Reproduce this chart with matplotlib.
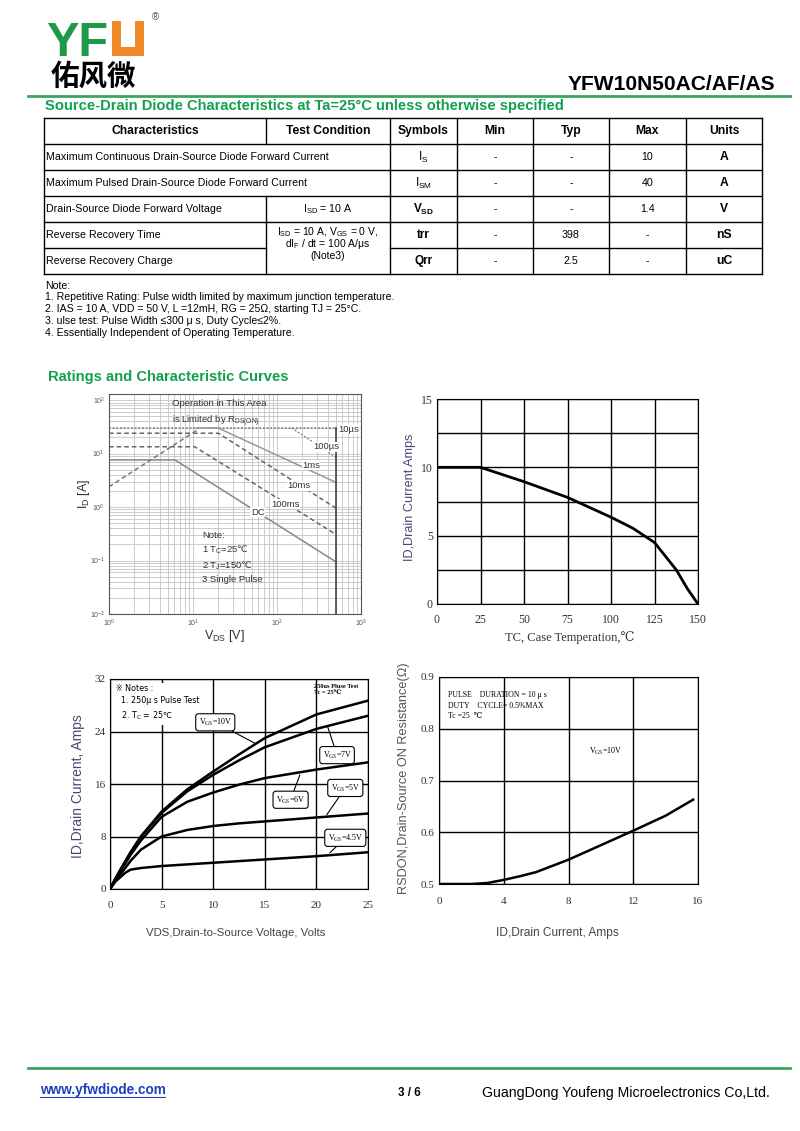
import matplotlib
matplotlib.use('Agg')
import matplotlib.pyplot as plt
from matplotlib import font_manager
from matplotlib.patches import Rectangle
from matplotlib.ticker import NullFormatter

names = {f.name for f in font_manager.fontManager.ttflist}
NARROW = 'Liberation Sans Narrow' if 'Liberation Sans Narrow' in names else 'Liberation Sans'
NARROW_F = [NARROW, 'DejaVu Sans']
SANS = ['Liberation Sans', 'DejaVu Sans']
SERIF = ['Liberation Serif', 'DejaVu Serif', 'DejaVu Sans']
CJK = ['Noto Sans CJK SC', 'DejaVu Sans']
plt.rcParams['font.family'] = SANS

GREEN = '#12a050'
LINE_GREEN = '#3aa55d'

# ---------------- table data ----------------
headers = ['Characteristics', 'Test Condition', 'Symbols', 'Min', 'Typ', 'Max', 'Units']
characteristics = ['Maximum Continuous Drain-Source Diode Forward Current',
                   'Maximum Pulsed Drain-Source Diode Forward Current',
                   'Drain-Source Diode Forward Voltage',
                   'Reverse Recovery Time',
                   'Reverse Recovery Charge']
symbols = [r'I$_\mathregular{S}$', r'I$_\mathregular{SM}$', r'V$_\mathregular{SD}$', 'trr', 'Qrr']
symbol_bold = [False, False, True, True, True]
min_vals = ['-', '-', '-', '-', '-']
typ_vals = ['-', '-', '-', '398', '2.5']
max_vals = ['10', '40', '1.4', '-', '-']
units = ['A', 'A', 'V', 'nS', 'uC']
cond_vsd = r'I$_\mathregular{SD}$ = 10 A'
cond_rr = [r'I$_\mathregular{SD}$ = 10 A, V$_\mathregular{GS}$ = 0 V,',
           r'dI$_\mathregular{F}$ / dt = 100 A/μs', '(Note3)']
notes = ['Note:',
         '1. Repetitive Rating: Pulse width limited by maximum junction temperature.',
         '2. IAS = 10 A, VDD = 50 V, L =12mH, RG = 25Ω, starting TJ = 25°C.',
         '3. ulse test: Pulse Width ≤300 μ s, Duty Cycle≤2%.',
         '4. Essentially Independent of Operating Temperature.']

# ---------------- SOA data (V, A) ----------------
us10_v = [1, 500, 500]
us10_i = [30, 30, 27]
us100_v = [150, 500]
us100_i = [30, 8.6]
ms1_v = [11, 20, 500]
ms1_i = [30, 30, 2.9]
ms10_v = [1, 20, 500]
ms10_i = [24, 24, 0.96]
ms100_v = [1, 10.5, 500]
ms100_i = [13.4, 13.4, 0.31]
dc_v = [1, 6.1, 500]
dc_i = [7.6, 7.6, 0.095]
rds_lim_v = [1, 11]
rds_lim_i = [2.4, 27]
vmax_v = [500, 500]
vmax_i = [0.01, 30]

# ---------------- derating data ----------------
tc = [0, 25, 50, 75, 100, 112.5, 125, 137.5, 144, 150]
id_tc = [10, 10, 8.95, 7.8, 6.35, 5.55, 4.5, 2.5, 1.1, 0]

# ---------------- output characteristics ----------------
vds = [0, 0.5, 1, 2, 3, 5, 7.5, 10, 12.5, 15, 20, 25]
id_10v = [0, 1.5, 2.9, 5.6, 8.0, 11.8, 15.2, 17.9, 20.5, 23.0, 26.6, 28.7]
id_7v = [0, 1.5, 2.9, 5.6, 8.0, 11.6, 14.9, 17.4, 19.6, 21.6, 24.4, 26.4]
id_6v = [0, 1.4, 2.7, 5.2, 7.4, 11.0, 13.3, 14.7, 15.9, 16.9, 18.2, 19.3]
id_5v = [0, 1.2, 2.2, 4.3, 6.0, 8.0, 9.0, 9.6, 10.0, 10.3, 10.9, 11.5]
vds_45 = [0, 0.5, 1, 1.5, 2, 3, 5, 10, 15, 20, 25]
id_45v = [0, 1.1, 1.8, 2.5, 2.95, 3.2, 3.5, 4.0, 4.5, 5.0, 5.6]
vgs_labels = ['10V', '7V', '6V', '5V', '4.5V']

# ---------------- Rds(on) data ----------------
id_r = [0, 2, 3, 4, 5, 6, 8, 10, 12, 14, 15.7]
rdson = [0.5, 0.5, 0.502, 0.508, 0.515, 0.523, 0.547, 0.575, 0.603, 0.632, 0.663]

fig = plt.figure(figsize=(8, 11.31), dpi=100)
page = fig.add_axes([0, 0, 1, 1])
page.set_xlim(0, 800)
page.set_ylim(1131, 0)
page.axis('off')


def box(l, t, r, b):
    return fig.add_axes([l / 800, 1 - b / 1131, (r - l) / 800, (b - t) / 1131])


# ---------------- header ----------------
page.text(46, 56, 'YF', fontsize=35, weight='bold', color='#1c9a48', va='baseline')
page.add_patch(Rectangle((112, 21), 32, 35, color='#ef8a2a', lw=0))
page.add_patch(Rectangle((121, 21), 14, 26, color='white', lw=0))
page.text(152, 17, '®', fontsize=7, color='#555', va='center')
page.text(51, 77, '佑风微', fontsize=20.5, family=CJK, weight='bold', va='center')
page.text(775, 85, 'YFW10N50AC/AF/AS', fontsize=15.1, weight='bold', ha='right', va='center')
page.plot([28, 790], [96, 96], color=LINE_GREEN, lw=2)
page.text(45, 106, 'Source-Drain Diode Characteristics at Ta=25°C unless otherwise specified',
          fontsize=10.6, weight='bold', color=GREEN, va='center')

# ---------------- table ----------------
col_x = [44, 266, 390, 457, 533, 609, 686, 762]
row_y = [118, 144, 170, 196, 222, 248, 274]
lk = dict(color='black', lw=1)
for i, y in enumerate(row_y):
    if i == 5:
        page.plot([col_x[0], col_x[1]], [y, y], **lk)
        page.plot([col_x[2], col_x[7]], [y, y], **lk)
    else:
        page.plot([col_x[0], col_x[7]], [y, y], **lk)
for j, x in enumerate(col_x):
    if j == 1:
        page.plot([x, x], [row_y[0], row_y[1]], **lk)
        page.plot([x, x], [row_y[3], row_y[6]], **lk)
    else:
        page.plot([x, x], [row_y[0], row_y[6]], **lk)

for j, h in enumerate(headers):
    page.text((col_x[j] + col_x[j + 1]) / 2, 131, h, fontsize=8.7, weight='bold', ha='center', va='center')
for i in range(5):
    yc = (row_y[i + 1] + row_y[i + 2]) / 2
    page.text(46, yc, characteristics[i], fontsize=7.7, va='center')
    page.text((col_x[2] + col_x[3]) / 2, yc, symbols[i], fontsize=8.5, ha='center', va='center',
              weight='bold' if symbol_bold[i] else 'normal')
    for j, v in zip(range(3, 6), (min_vals[i], typ_vals[i], max_vals[i])):
        page.text((col_x[j] + col_x[j + 1]) / 2, yc, v, fontsize=7.7, ha='center', va='center')
    page.text((col_x[6] + col_x[7]) / 2, yc, units[i], fontsize=8.7, weight='bold', ha='center', va='center')
page.text((col_x[1] + col_x[2]) / 2, 209, cond_vsd, fontsize=7.7, ha='center', va='center')
for line, yy in zip(cond_rr, [232, 244, 256]):
    page.text((col_x[1] + col_x[2]) / 2, yy, line, fontsize=7.5, ha='center', va='center')

for n, yy in zip(notes, [286, 297.5, 309, 321, 332.5]):
    page.text(45, yy, n, fontsize=7.6, va='center')

page.text(48, 377, 'Ratings and Characteristic Curves', fontsize=10.6, weight='bold', color=GREEN, va='center')

# ---------------- SOA ----------------
soa = box(109, 394, 361, 614)
soa.set_xscale('log')
soa.set_yscale('log')
soa.set_xlim(1, 1000)
soa.set_ylim(0.01, 130)
soa.grid(True, which='both', color='#c4c4c4', lw=0.6)
soa.yaxis.set_minor_formatter(NullFormatter())
soa.xaxis.set_minor_formatter(NullFormatter())
soa.tick_params(which='both', length=0, labelsize=5, colors='#555', pad=3)
for s in soa.spines.values():
    s.set_color('#555')
soa.plot(us10_v, us10_i, color='#777', lw=1.1, ls=(0, (1.2, 1.2)))
soa.plot(us100_v, us100_i, color='#888', lw=1.1, ls=(0, (1.2, 1.2)))
soa.plot(ms1_v, ms1_i, color='#999', lw=1.1)
soa.plot(ms10_v, ms10_i, color='#666', lw=1.1, ls=(0, (3, 2)))
soa.plot(ms100_v, ms100_i, color='#666', lw=1.1, ls=(0, (3, 2)))
soa.plot(dc_v, dc_i, color='#888', lw=1.1)
soa.plot(rds_lim_v, rds_lim_i, color='#777', lw=1.1, ls=(0, (3, 2)))
soa.plot(vmax_v, vmax_i, color='#444', lw=1.2)
st = dict(transform=soa.transAxes, fontsize=6.8, family=NARROW_F, color='#333', va='center')
soa.text(0.25, 0.955, 'Operation in This Area', **st)
soa.text(0.25, 0.873, r'is Limited by R$_\mathregular{DS(ON)}$', **st)
wb = dict(fc='white', ec='none', pad=0.3)
soa.text(0.91, 0.84, '10µs', bbox=wb, **st)
soa.text(0.81, 0.76, '100µs', bbox=wb, **st)
soa.text(0.766, 0.677, '1ms', bbox=wb, **st)
soa.text(0.706, 0.582, '10ms', bbox=wb, **st)
soa.text(0.645, 0.50, '100ms', bbox=wb, **st)
soa.text(0.563, 0.462, 'DC', bbox=wb, **st)
soa.text(0.369, 0.358, 'Note:', **st)
soa.text(0.369, 0.29, '1 T$_\\mathregular{C}$=25$\\mathrm{℃}$', **st)
soa.text(0.369, 0.22, '2 T$_\\mathregular{J}$=150$\\mathrm{℃}$', **st)
soa.text(0.369, 0.155, '3 Single Pulse', **st)
page.text(84, 494, r'I$_\mathregular{D}$ [A]', fontsize=9, family=NARROW_F, color='#333',
          rotation=90, ha='center', va='center')
page.text(224, 636, r'V$_\mathregular{DS}$ [V]', fontsize=9, family=NARROW_F, color='#333',
          ha='center', va='center')

# ---------------- derating ----------------
der = box(437, 399, 698, 604)
der.set_xlim(0, 150)
der.set_ylim(0, 15)
der.set_xticks([0, 25, 50, 75, 100, 125, 150])
der.set_yticks([0, 5, 10, 15])
der.set_yticks([2.5, 7.5, 12.5], minor=True)
der.grid(True, which='both', color='black', lw=1)
der.tick_params(which='both', length=0, labelsize=8.5, labelfontfamily='Liberation Serif', colors='#333')
der.tick_params(axis='x', pad=7)
der.tick_params(axis='y', pad=3)
der.plot(tc, id_tc, color='black', lw=2)
page.text(410, 497, 'ID,Drain Current Amps', fontsize=9.1, color='#4e4478', rotation=90,
          ha='center', va='center')
page.text(570, 638, 'TC, Case Temperation,℃', fontsize=9, family=SERIF, color='#333',
          ha='center', va='center')

# ---------------- output characteristics ----------------
out = box(110, 679, 368, 889)
out.set_xlim(0, 25)
out.set_ylim(0, 32)
out.set_xticks([0, 5, 10, 15, 20, 25])
out.set_yticks([0, 8, 16, 24, 32])
out.grid(True, color='black', lw=1)
out.tick_params(length=0, labelsize=8, labelfontfamily='Liberation Serif', colors='#333')
out.tick_params(axis='x', pad=9)
out.tick_params(axis='y', pad=3)
for series in (id_10v, id_7v, id_6v, id_5v):
    out.plot(vds, series, color='black', lw=1.8)
out.plot(vds_45, id_45v, color='black', lw=1.8)
out.text(0.025, 0.975, '※ Notes :\n  1. 250μ s Pulse Test\n  2. T$_\\mathregular{C}$ = 25℃', transform=out.transAxes,
         fontsize=5.8, family=['DejaVu Sans', 'Noto Sans CJK SC'], va='top', linespacing=1.45,
         bbox=dict(fc='white', ec='none', pad=2))
out.text(0.79, 0.975, '250us Pluse Test\nTc = 25℃', transform=out.transAxes, fontsize=4.6,
         family=SERIF, weight='bold', va='top', linespacing=1.2)
callout_tip = [(14.05, 22.2), (21.1, 24.7), (18.4, 17.4), (21.0, 11.3), (21.3, 5.5)]
callout_box = [(10.2, 25.4), (22.0, 20.4), (17.5, 13.6), (22.8, 15.4), (22.8, 7.8)]
for lab, tip, bx in zip(vgs_labels, callout_tip, callout_box):
    out.annotate(r'V$_\mathregular{GS}$=' + lab, xy=tip, xytext=bx, fontsize=5.8, family=SERIF,
                 ha='center', va='center',
                 bbox=dict(boxstyle='round,pad=0.35', fc='white', ec='black', lw=0.8),
                 arrowprops=dict(arrowstyle='-', color='black', lw=0.8, shrinkA=0, shrinkB=0))
page.text(78, 786, 'ID,Drain Current, Amps', fontsize=10, color='#4e4478', rotation=90,
          ha='center', va='center')
page.text(236, 933, 'VDS,Drain-to-Source Voltage, Volts', fontsize=8.2, family=NARROW_F, color='#444',
          ha='center', va='center')

# ---------------- Rds(on) ----------------
rds = box(439, 677, 698, 884)
rds.set_xlim(0, 16)
rds.set_ylim(0.5, 0.9)
rds.set_xticks([0, 4, 8, 12, 16])
rds.set_yticks([0.5, 0.6, 0.7, 0.8, 0.9])
rds.grid(True, color='black', lw=1)
rds.tick_params(length=0, labelsize=8, labelfontfamily='Liberation Serif', colors='#333')
rds.tick_params(axis='x', pad=9)
rds.tick_params(axis='y', pad=3)
rds.plot(id_r, rdson, color='black', lw=1.8)
rds.text(0.035, 0.93, 'PULSE    DURATION = 10 μ s\nDUTY    CYCLE= 0.5%MAX\nTc =25  ℃', transform=rds.transAxes,
         fontsize=5.6, family=SERIF, va='top', linespacing=1.35)
rds.text(0.58, 0.64, r'V$_\mathregular{GS}$=10V', transform=rds.transAxes, fontsize=5.8, family=SERIF,
         va='center')
page.text(404, 778, 'RSDON,Drain-Source ON Resistance(Ω)', fontsize=9.2, color='#555', rotation=90,
          ha='center', va='center')
page.text(557, 933, 'ID,Drain Current, Amps', fontsize=8.6, family=NARROW_F, color='#444',
          ha='center', va='center')

# ---------------- footer ----------------
page.plot([28, 790], [1068, 1068], color=LINE_GREEN, lw=2)
page.text(40, 1090, 'www.yfwdiode.com', fontsize=9.8, weight='bold', color='#1f3fbf', va='center')
page.plot([40, 165], [1097, 1097], color='#1f3fbf', lw=0.8)
page.text(398, 1093, '3 / 6', fontsize=8.4, weight='bold', va='center')
page.text(482, 1093, 'GuangDong Youfeng Microelectronics Co,Ltd.', fontsize=10.2, va='center')

fig.savefig('out.png', dpi=100)
